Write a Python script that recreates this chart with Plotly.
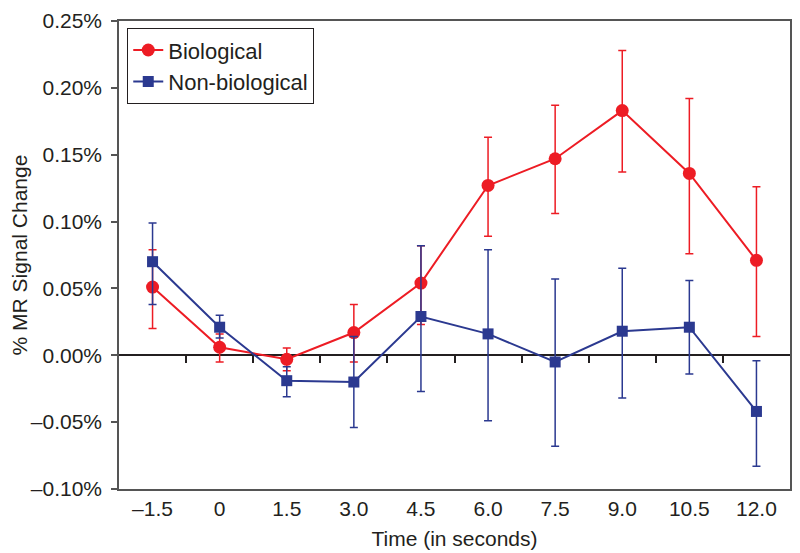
import plotly.graph_objects as go

# time points (seconds) and their tick labels
time_labels = ["–1.5", "0", "1.5", "3.0", "4.5", "6.0", "7.5", "9.0", "10.5", "12.0"]
positions = list(range(len(time_labels)))

# y ticks (% signal change)
y_ticks = [-0.10, -0.05, 0.0, 0.05, 0.10, 0.15, 0.20, 0.25]
y_tick_labels = ["–0.10%", "–0.05%", "0.00%", "0.05%", "0.10%", "0.15%", "0.20%", "0.25%"]

# % MR signal change, with upper / lower error bar ends
bio = [0.051, 0.006, -0.003, 0.017, 0.054, 0.127, 0.147, 0.183, 0.136, 0.071]
bio_hi = [0.079, 0.016, 0.0055, 0.038, 0.082, 0.163, 0.187, 0.228, 0.192, 0.126]
bio_lo = [0.020, -0.005, -0.0115, -0.005, 0.023, 0.089, 0.106, 0.137, 0.076, 0.014]

nonbio = [0.070, 0.021, -0.019, -0.020, 0.029, 0.016, -0.005, 0.018, 0.021, -0.042]
nonbio_hi = [0.099, 0.030, -0.0085, 0.014, 0.082, 0.079, 0.057, 0.065, 0.056, -0.004]
nonbio_lo = [0.038, 0.013, -0.031, -0.054, -0.027, -0.049, -0.068, -0.032, -0.014, -0.083]

RED = "#ED1C24"
BLUE = "#2B3990"
INK = "#231F20"
FONT = "Liberation Sans, Arial, sans-serif"


def err(vals, hi, lo, color):
    return dict(
        type="data", symmetric=False,
        array=[h - v for h, v in zip(hi, vals)],
        arrayminus=[v - l for v, l in zip(vals, lo)],
        thickness=1.5, width=4, color=color,
    )


fig = go.Figure()

fig.add_trace(go.Scatter(
    x=positions, y=bio, name="Biological", mode="lines+markers",
    line=dict(color=RED, width=2),
    marker=dict(symbol="circle", size=13, color=RED),
    error_y=err(bio, bio_hi, bio_lo, RED),
))

fig.add_trace(go.Scatter(
    x=positions, y=nonbio, name="Non-biological", mode="lines+markers",
    line=dict(color=BLUE, width=2),
    marker=dict(symbol="square", size=11, color=BLUE),
    error_y=err(nonbio, nonbio_hi, nonbio_lo, BLUE),
))

# invisible trace so the tick axis sitting on the zero line gets drawn
fig.add_trace(go.Scatter(
    x=positions, y=bio, xaxis="x2", mode="markers",
    marker=dict(opacity=0), showlegend=False, hoverinfo="skip",
))

y_lo, y_hi = -0.10, 0.25
zero_pos = (0 - y_lo) / (y_hi - y_lo)

# page body has an 8px margin, so the figure is a bit smaller than the window
fig.update_layout(
    width=792, height=545,
    margin=dict(l=111, r=10, t=13, b=64),
    paper_bgcolor="white", plot_bgcolor="white",
    font=dict(family=FONT, size=21, color=INK),
    showlegend=True,
    legend=dict(
        x=0.012, y=0.985, xanchor="left", yanchor="top",
        bordercolor=INK, borderwidth=1.2,
        font=dict(size=22), bgcolor="white",
        tracegroupgap=0, itemwidth=30,
    ),
    xaxis=dict(
        range=[-0.5, 9.5], tickmode="array",
        tickvals=positions, ticktext=time_labels,
        ticks="", showgrid=False, zeroline=False, automargin=False,
        showline=True, linecolor="#555555", linewidth=1.5, mirror=True,
        tickfont=dict(size=21),
        title=dict(text="Time (in seconds)", font=dict(size=21), standoff=12),
    ),
    xaxis2=dict(
        overlaying="x", anchor="free", position=zero_pos,
        range=[-0.5, 9.5], tickmode="array",
        tickvals=[p + 0.5 for p in positions[:-1]],
        ticks="outside", ticklen=7, tickwidth=1.5, tickcolor=INK,
        showticklabels=False, showgrid=False, zeroline=False, showline=False,
        automargin=False,
    ),
    yaxis=dict(
        range=[y_lo, y_hi], tickmode="array",
        tickvals=y_ticks, ticktext=y_tick_labels,
        ticks="outside", ticklen=6, tickwidth=1.5, tickcolor="#555555",
        ticklabelstandoff=5, ticklabeloverflow="allow", tickfont=dict(size=21),
        showgrid=False, zeroline=True, zerolinecolor=INK, zerolinewidth=1.5,
        showline=True, linecolor="#555555", linewidth=1.5, mirror=True,
        automargin=False,
        title=dict(text="% MR Signal Change", font=dict(size=21), standoff=4),
    ),
)

fig.write_html("out.html")
